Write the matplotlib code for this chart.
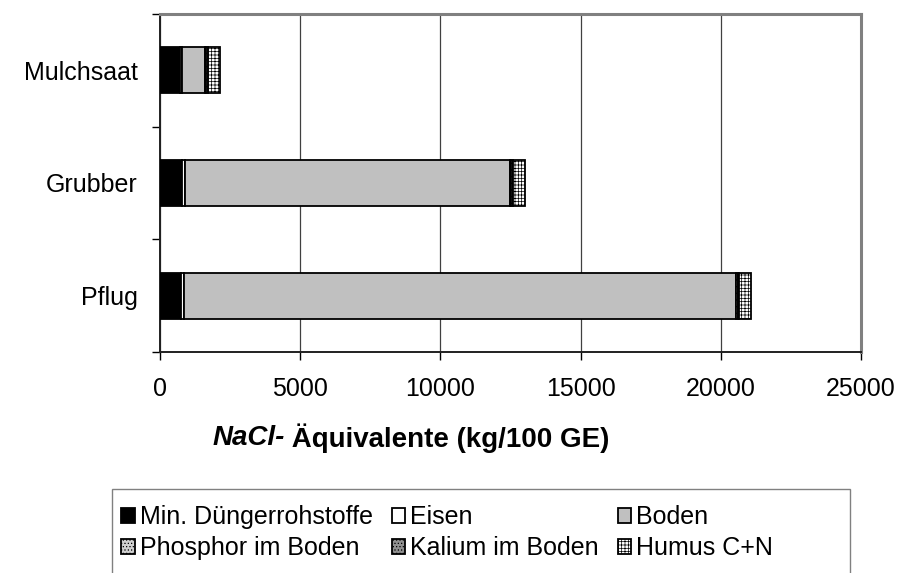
import matplotlib
matplotlib.use('Agg')
import matplotlib.pyplot as plt
from matplotlib.patches import Patch, Rectangle
import numpy as np

plt.rcParams['font.family'] = ['Liberation Sans', 'DejaVu Sans']
plt.rcParams['hatch.linewidth'] = 0.5

# Verfahren (von unten nach oben)
verfahren = ['Pflug', 'Grubber', 'Mulchsaat']

# Anteile je Verfahren in kg NaCl-Äquivalente / 100 GE
min_duenger = [750, 780, 700]
eisen = [100, 100, 100]
boden = [19700, 11600, 800]
phosphor = [50, 50, 50]
kalium = [60, 60, 60]
humus = [400, 420, 420]

x_ticks = [0, 5000, 10000, 15000, 20000, 25000]

serien = [
    ('Min. Düngerrohstoffe', min_duenger, dict(facecolor='black')),
    ('Eisen', eisen, dict(facecolor='white')),
    ('Boden', boden, dict(facecolor='#c0c0c0')),
    ('Phosphor im Boden', phosphor, dict(facecolor='#d0d0d0', hatch='.....')),
    ('Kalium im Boden', kalium, dict(facecolor='#909090', hatch='.....')),
    ('Humus C+N', humus, dict(facecolor='white', hatch='+++++')),
]

fs = 18

fig = plt.figure(figsize=(8.98, 5.73), dpi=100)
ax = fig.add_axes([160 / 898, 1 - 352 / 573, (861 - 160) / 898, (352 - 14) / 573])

y = np.arange(len(verfahren))
links = np.zeros(len(verfahren))
handles = []
for name, werte, style in serien:
    ax.barh(y, werte, left=links, height=0.41, edgecolor='black',
            linewidth=1.3, zorder=3, **style)
    links += np.array(werte)
    handles.append(Patch(edgecolor='black', linewidth=1.3, label=name, **style))

ax.set_xlim(0, 25000)
ax.set_ylim(-0.5, 2.5)
ax.set_xticks(x_ticks)
ax.set_xticklabels([str(v) for v in x_ticks], fontsize=fs)
ax.tick_params(axis='x', direction='out', length=6, width=1, pad=12)

# Kategorien zwischen den Teilstrichen beschriften
ax.set_yticks([-0.5, 0.5, 1.5, 2.5])
ax.set_yticklabels([])
ax.set_yticks(y, minor=True)
ax.set_yticklabels(verfahren, minor=True, fontsize=fs)
ax.tick_params(axis='y', which='major', direction='out', length=6, width=1)
ax.tick_params(axis='y', which='minor', length=0, pad=16)

ax.xaxis.grid(True, color='#404040', linewidth=0.9, zorder=0)
ax.set_axisbelow(True)

for s in ['left', 'bottom']:
    ax.spines[s].set_color('#202020')
    ax.spines[s].set_linewidth(1.4)
for s in ['top', 'right']:
    ax.spines[s].set_color('#808080')
    ax.spines[s].set_linewidth(2.2)

# Achsentitel: "NaCl-" kursiv fett, Rest fett
t1 = fig.text(210 / 898, 1 - 438 / 573, 'NaCl-', fontsize=20,
              fontweight='bold', fontstyle='italic', va='center', ha='left')
t2 = ax.annotate(' Äquivalente (kg/100 GE)', xy=(1, 0.5), xycoords=t1,
                 va='center', ha='left', fontsize=20, fontweight='bold')
fig.canvas.draw()
r = fig.canvas.get_renderer()
b1 = t1.get_window_extent(r)
b2 = t2.get_window_extent(r)
mitte = (b1.x0 + b2.x1) / 2
t1.set_x((210 + (411 - mitte)) / 898)

# Legende nach Zeilen ordnen (matplotlib füllt spaltenweise)
reihenfolge = [0, 3, 1, 4, 2, 5]
leg = fig.legend(handles=[handles[i] for i in reihenfolge], ncol=3,
                 loc='upper left', bbox_to_anchor=(121 / 898, 1 - 505 / 573),
                 fontsize=fs, frameon=False, handlelength=0.55,
                 handleheight=0.55, handletextpad=0.2, columnspacing=0.75,
                 labelspacing=0.28, borderpad=0, borderaxespad=0)

fig.add_artist(Rectangle((112 / 898, -0.05), (850 - 112) / 898,
                         0.05 + (573 - 489) / 573, transform=fig.transFigure,
                         fill=False, edgecolor='#808080', linewidth=1.0))

fig.savefig('out.png', dpi=100)
